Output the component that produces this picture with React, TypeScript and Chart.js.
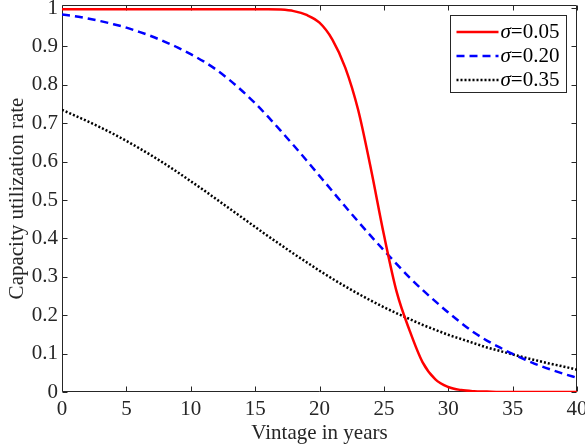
import React, { useEffect, useRef } from "react";
import { Chart, registerables } from "chart.js";

Chart.register(...registerables);

const years = [0, 1, 2, 3, 4, 5, 6, 7, 8, 9, 10, 11, 12, 13, 14, 15, 16, 17, 18, 19, 20, 21, 22, 23, 24, 25, 26, 27, 28, 29, 30, 31, 32, 33, 34, 35, 36, 37, 38, 39, 40];

const sigma005 = [0.997, 0.997, 0.997, 0.997, 0.997, 0.997, 0.997, 0.997, 0.997, 0.997, 0.997, 0.997, 0.997, 0.997, 0.997, 0.997, 0.997, 0.996, 0.992, 0.982, 0.962, 0.918, 0.845, 0.735, 0.58, 0.41, 0.26, 0.16, 0.078, 0.033, 0.013, 0.005, 0.002, 0.001, 0, 0, 0, 0, 0, 0, 0];

const sigma020 = [0.983, 0.979, 0.973, 0.966, 0.958, 0.949, 0.938, 0.926, 0.912, 0.897, 0.88, 0.861, 0.839, 0.813, 0.784, 0.752, 0.717, 0.68, 0.642, 0.603, 0.563, 0.523, 0.483, 0.444, 0.406, 0.369, 0.333, 0.298, 0.266, 0.236, 0.207, 0.18, 0.155, 0.134, 0.116, 0.099, 0.084, 0.07, 0.058, 0.047, 0.037];

const sigma035 = [0.735, 0.72, 0.705, 0.689, 0.672, 0.654, 0.635, 0.615, 0.594, 0.572, 0.549, 0.526, 0.502, 0.478, 0.454, 0.43, 0.406, 0.383, 0.36, 0.338, 0.316, 0.295, 0.275, 0.256, 0.238, 0.221, 0.205, 0.19, 0.175, 0.162, 0.149, 0.138, 0.127, 0.116, 0.107, 0.098, 0.089, 0.081, 0.073, 0.066, 0.058];

const seriesLabels = ["σ=0.05", "σ=0.20", "σ=0.35"];
const xTickValues = [0, 5, 10, 15, 20, 25, 30, 35, 40];
const yTickValues = [0, 0.1, 0.2, 0.3, 0.4, 0.5, 0.6, 0.7, 0.8, 0.9, 1];

const AXIS_COLOR = "#262626";
const FONT_FAMILY = "'Liberation Serif', 'Times New Roman', serif";
const FONT_SIZE = 21;

const framePlugin = {
  id: "matlabFrame",
  beforeDatasetsDraw(chart: any) {
    const { ctx, chartArea } = chart;
    const { left, right, top, bottom } = chartArea;
    const xs = chart.scales.x;
    const ys = chart.scales.y;
    const tl = 5;
    ctx.save();
    ctx.strokeStyle = AXIS_COLOR;
    ctx.lineWidth = 1;
    ctx.beginPath();
    const L = Math.round(left) + 0.5;
    const R = Math.round(right) - 0.5;
    const T = Math.round(top) + 0.5;
    const B = Math.round(bottom) - 0.5;
    ctx.rect(L, T, R - L, B - T);
    xTickValues.forEach((v) => {
      const px = Math.round(xs.getPixelForValue(v)) + 0.5;
      ctx.moveTo(px, B);
      ctx.lineTo(px, B - tl);
      ctx.moveTo(px, T);
      ctx.lineTo(px, T + tl);
    });
    yTickValues.forEach((v) => {
      const py = Math.round(ys.getPixelForValue(v)) + 0.5;
      ctx.moveTo(L, py);
      ctx.lineTo(L + tl, py);
      ctx.moveTo(R, py);
      ctx.lineTo(R - tl, py);
    });
    ctx.stroke();
    ctx.restore();
  },
};

const legendPlugin = {
  id: "boxLegend",
  afterDraw(chart: any) {
    const { ctx, chartArea } = chart;
    const boxW = 116;
    const boxH = 77;
    const x0 = Math.round(chartArea.right - 11.5 - boxW) + 0.5;
    const y0 = Math.round(chartArea.top + 10) + 0.5;
    ctx.save();
    ctx.fillStyle = "#ffffff";
    ctx.fillRect(x0, y0, boxW, boxH);
    ctx.strokeStyle = AXIS_COLOR;
    ctx.lineWidth = 1;
    ctx.strokeRect(x0, y0, boxW, boxH);
    chart.data.datasets.forEach((ds: any, i: number) => {
      const yRow = y0 + 16.5 + i * 24;
      ctx.beginPath();
      ctx.strokeStyle = ds.borderColor;
      ctx.lineWidth = ds.borderWidth;
      ctx.setLineDash(ds.borderDash || []);
      ctx.moveTo(x0 + 6, yRow);
      ctx.lineTo(x0 + 48, yRow);
      ctx.stroke();
      ctx.setLineDash([]);
      const label: string = ds.label;
      const sym = label.charAt(0);
      const rest = label.slice(1);
      ctx.fillStyle = "#000000";
      ctx.textBaseline = "middle";
      ctx.textAlign = "left";
      ctx.font = `italic ${FONT_SIZE}px ${FONT_FAMILY}`;
      const tx = x0 + 50;
      ctx.fillText(sym, tx, yRow);
      const w = ctx.measureText(sym).width;
      ctx.font = `${FONT_SIZE}px ${FONT_FAMILY}`;
      ctx.fillText(rest, tx + w, yRow);
    });
    ctx.restore();
  },
};

export default function App() {
  const canvasRef = useRef<HTMLCanvasElement | null>(null);

  useEffect(() => {
    document.body.style.margin = "0";
    const canvas = canvasRef.current;
    if (!canvas) return;
    const toPoints = (vals: number[]) => vals.map((v, i) => ({ x: years[i], y: v }));
    const chart = new Chart(canvas, {
      type: "line",
      data: {
        datasets: [
          {
            label: seriesLabels[0],
            data: toPoints(sigma005),
            borderColor: "#ff0000",
            borderWidth: 2.5,
            pointRadius: 0,
            cubicInterpolationMode: "monotone",
            fill: false,
          },
          {
            label: seriesLabels[1],
            data: toPoints(sigma020),
            borderColor: "#0000ff",
            borderWidth: 2.5,
            borderDash: [8, 5],
            pointRadius: 0,
            cubicInterpolationMode: "monotone",
            fill: false,
          },
          {
            label: seriesLabels[2],
            data: toPoints(sigma035),
            borderColor: "#000000",
            borderWidth: 2.5,
            borderDash: [2, 2],
            pointRadius: 0,
            cubicInterpolationMode: "monotone",
            fill: false,
          },
        ],
      },
      options: {
        responsive: false,
        animation: false,
        devicePixelRatio: 1,
        layout: { padding: { left: 0, right: 8, top: 5, bottom: 0 } },
        plugins: {
          legend: { display: false },
          tooltip: { enabled: false },
        },
        scales: {
          x: {
            type: "linear",
            min: 0,
            max: 40,
            grid: { display: false, drawTicks: false },
            border: { display: false },
            afterBuildTicks: (scale: any) => {
              scale.ticks = xTickValues.map((v) => ({ value: v }));
            },
            ticks: {
              color: AXIS_COLOR,
              padding: 5,
              maxRotation: 0,
              autoSkip: false,
              font: { family: FONT_FAMILY, size: FONT_SIZE },
              callback: (v: any) => String(v),
            },
            title: {
              display: true,
              text: "Vintage in years",
              color: AXIS_COLOR,
              font: { family: FONT_FAMILY, size: FONT_SIZE },
              padding: { top: 0, bottom: 0 },
            },
            afterFit: (scale: any) => {
              scale.height = 54;
              scale.paddingLeft = 0;
              scale.paddingRight = 0;
            },
          },
          y: {
            type: "linear",
            min: 0,
            max: 1.008,
            grid: { display: false, drawTicks: false },
            border: { display: false },
            afterBuildTicks: (scale: any) => {
              scale.ticks = yTickValues.map((v) => ({ value: v }));
            },
            ticks: {
              color: AXIS_COLOR,
              padding: 4,
              autoSkip: false,
              font: { family: FONT_FAMILY, size: FONT_SIZE },
              callback: (v: any) => String(Math.round(Number(v) * 10) / 10),
            },
            title: {
              display: true,
              text: "Capacity utilization rate",
              color: AXIS_COLOR,
              font: { family: FONT_FAMILY, size: FONT_SIZE },
              padding: { top: 5, bottom: 0 },
            },
            afterFit: (scale: any) => {
              scale.width = 62;
              scale.paddingTop = 0;
              scale.paddingBottom = 0;
            },
          },
        },
      },
      plugins: [framePlugin, legendPlugin],
    });
    return () => chart.destroy();
  }, []);

  return (
    <div style={{ position: "absolute", left: 0, top: 0, width: 585, height: 446 }}>
      <canvas ref={canvasRef} width={585} height={446} />
    </div>
  );
}
